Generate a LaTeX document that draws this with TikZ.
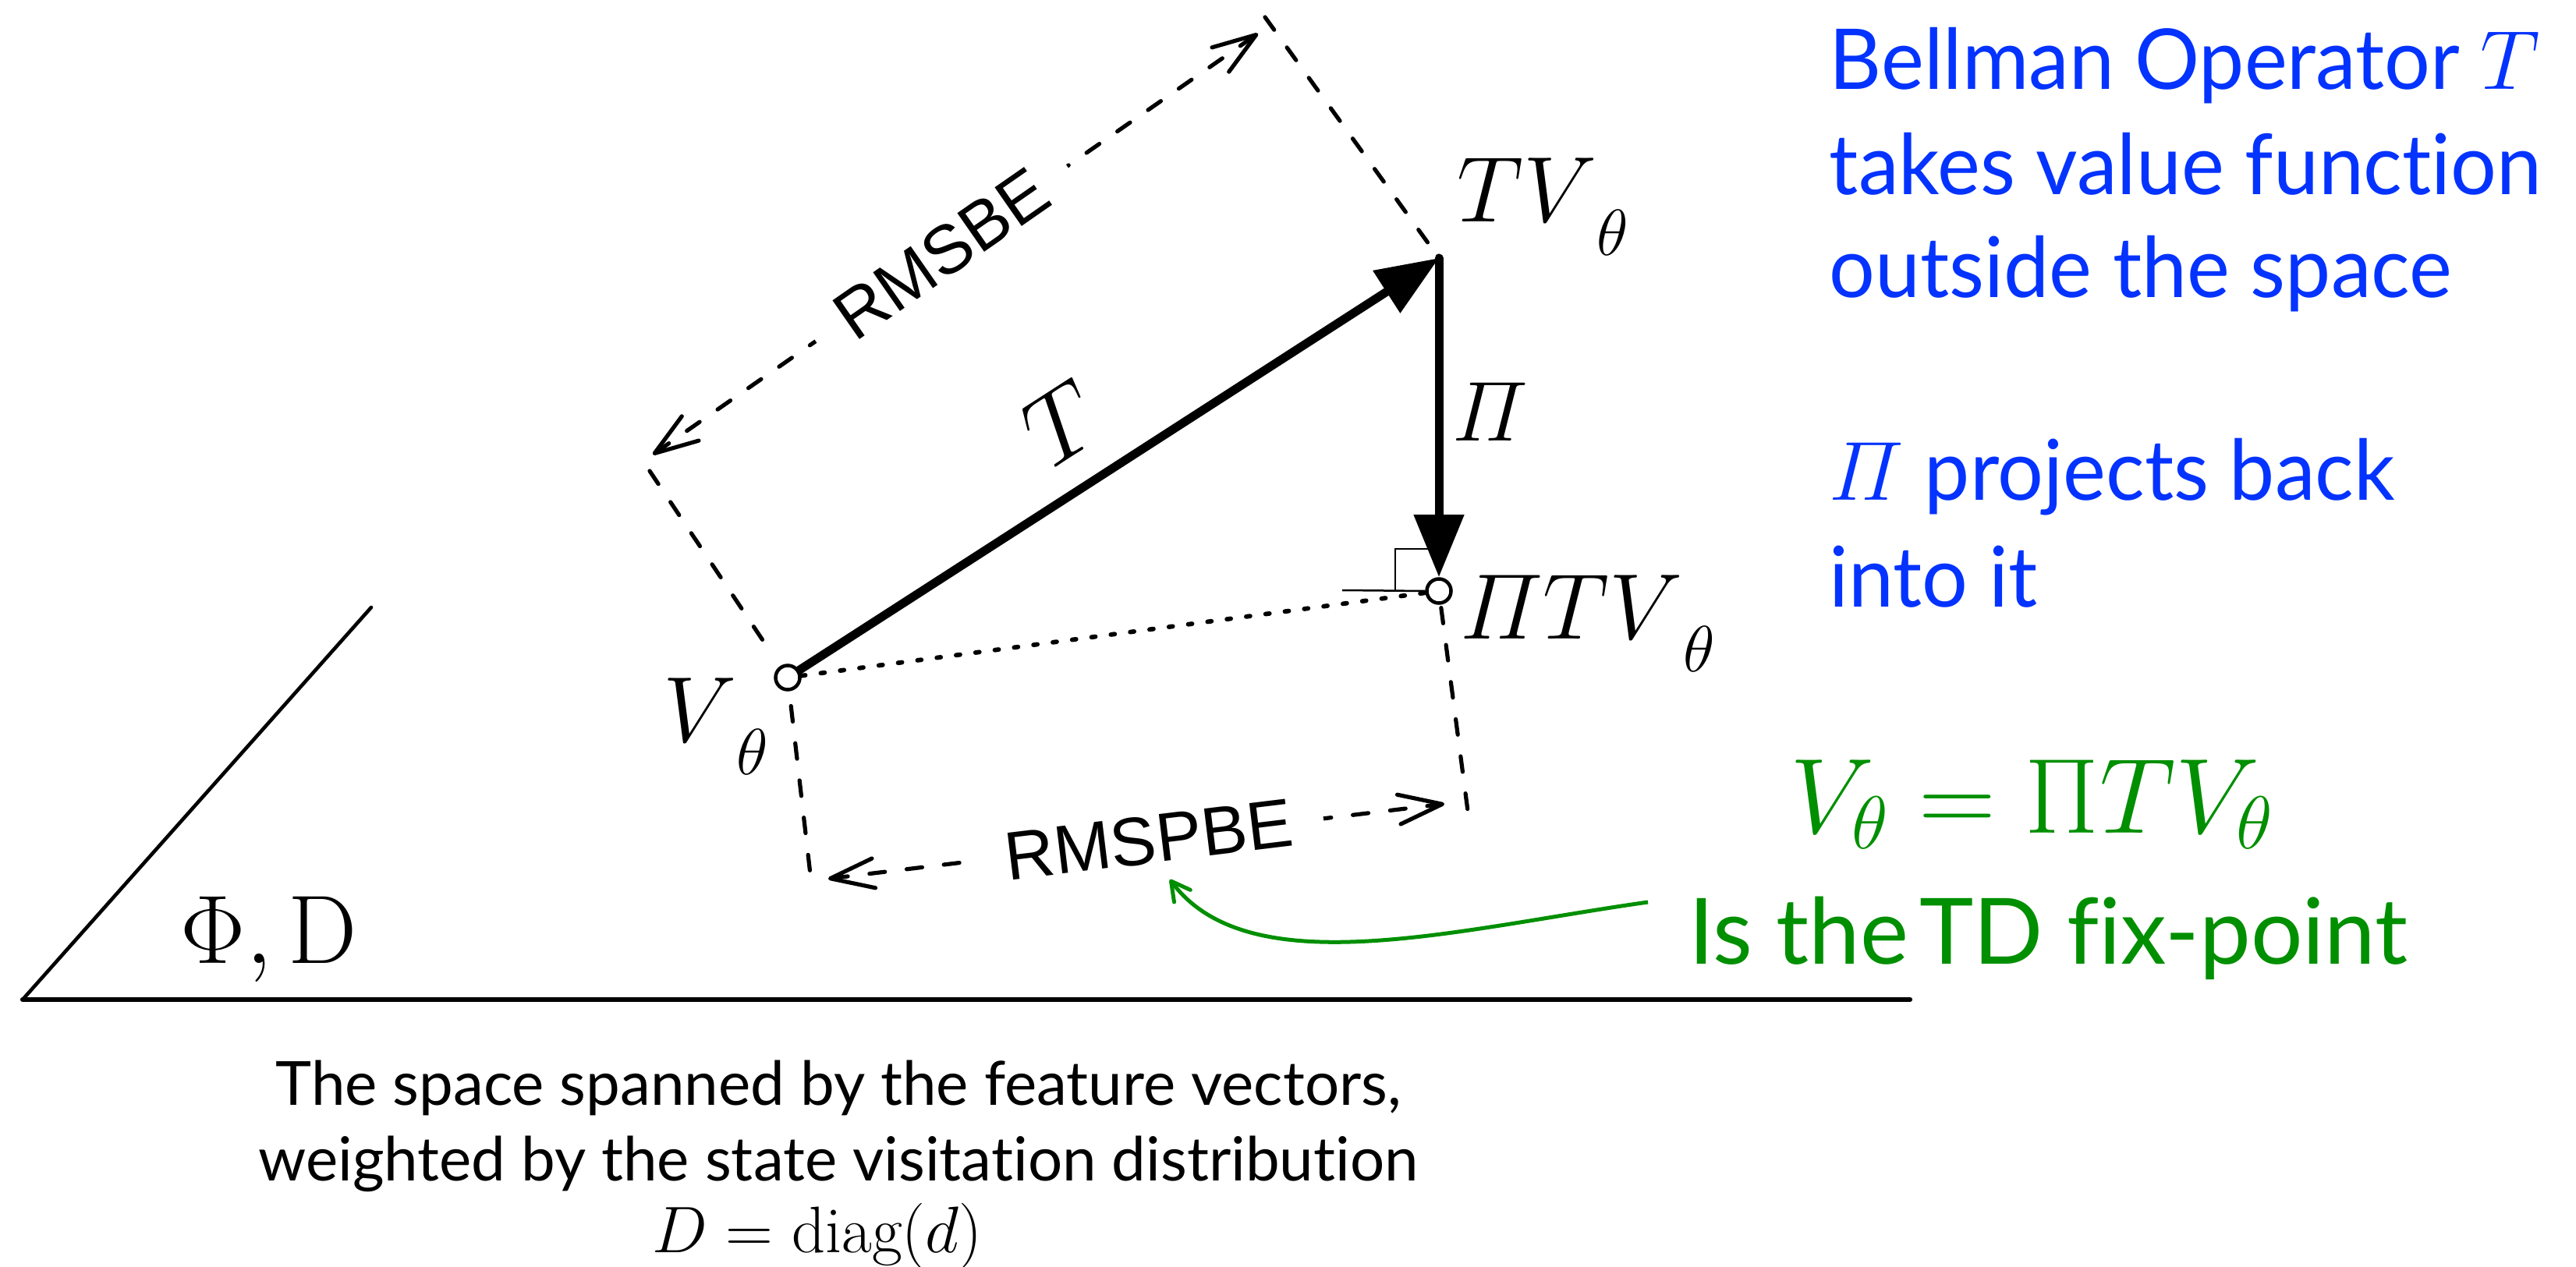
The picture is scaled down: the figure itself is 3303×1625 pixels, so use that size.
\RequirePackage{fix-cm}
\documentclass[tikz,border=0pt]{standalone}
\usepackage{amsmath}
\usepackage{fontspec}
\newfontfamily\gill{Lato}[Ligatures=NoCommon]
\newfontfamily\gillnarrow{Lato}[Ligatures=NoCommon, FakeStretch=0.965]
\newfontfamily\helv{Liberation Sans}
\usetikzlibrary{arrows.meta}
\pgfdeclarelayer{bg}
\pgfsetlayers{bg,main}
\definecolor{kblue}{RGB}{4,51,255}
\definecolor{kgreen}{RGB}{0,143,0}
\newcommand\lsub[1]{\lower12pt\hbox{$\scriptstyle #1$}}
\tikzset{
  guide/.style={line width=0.052cm, dash pattern=on 0.2cm off 0.28cm, line cap=round},
  errarrow/.style={guide, >={Straight Barb[length=0.56cm,width=0.38cm,round]}, <->},
  mainarrow/.style={line width=0.11cm, line cap=round, -{Triangle[length=0.8cm,width=0.62cm]}},
  dotline/.style={line width=0.058cm, line cap=round, dash pattern=on 0.05cm off 0.2cm},
  pt/.style={circle, draw, fill=white, line width=0.045cm, minimum size=0.31cm, inner sep=0pt},
  mathlab/.style={inner sep=0pt, anchor=base west, font=\fontsize{34}{40}\selectfont},
  errlab/.style={font=\helv\fontsize{25}{28}\selectfont, fill=white, sloped, inner xsep=0.4cm, inner ysep=0.05cm},
  bluetxt/.style={anchor=base west, inner sep=0pt, text=kblue, font=\gillnarrow\fontsize{30.6}{36}\selectfont},
  greentxt/.style={anchor=base west, inner sep=0pt, text=kgreen},
  captxt/.style={anchor=base, inner sep=0pt, font=\gill\fontsize{22.2}{26}\selectfont},
  rightmark/.style={line width=0.025cm},
  space/.style={line cap=round},
  greenarrow/.style={draw=kgreen, line width=0.05cm, -{Straight Barb[length=0.24cm,width=0.26cm,round]}}
}
\begin{document}
\begin{tikzpicture}[x=0.01cm,y=-0.01cm]
\useasboundingbox (0,0) rectangle (3303,1625);
% points
\node[pt] (V) at (1010,869) {};
\node[pt] (PTV) at (1845,758) {};
\coordinate (TV) at (1845,331);
\coordinate (Ctop) at (1622,22);
\coordinate (Cleft) at (833,604);
\coordinate (Cbl) at (1040,1130);
\coordinate (Cbr) at (1882,1040);
\coordinate (A1) at (837,583);
\coordinate (A2) at (1613,43);
\coordinate (B1) at (1062,1127);
\coordinate (B2) at (1852,1031);
\coordinate (S0) at (29,1282);
\coordinate (S1) at (476,779);
\coordinate (S2) at (2449,1282);
\coordinate (gs) at (2113,1157);
\coordinate (ge) at (1500,1128);

\begin{pgfonlayer}{bg}
% the space
\draw[space, line width=0.046cm] (S0) -- (S1);
\draw[space, line width=0.062cm] (S0) -- (S2);
% guides
\draw[guide, shorten >=0.2cm] (Ctop) -- (TV);
\draw[guide, shorten >=0.27cm] (Cleft) -- (V);
\draw[guide, shorten <=0.19cm] (V) -- (Cbl);
\draw[guide, shorten <=0.04cm] (PTV) -- (Cbr);
% error arrows
\draw[errarrow] (A1) -- node[errlab, pos=0.477] (rmsbe) {RMSBE} (A2);
\draw[errarrow] (B1) -- node[errlab, pos=0.52] (rmspbe) {RMSPBE} (B2);
% dotted
\draw[dotline] (V) -- (PTV);
% right angle mark
\draw[rightmark] (1721,757) -- (PTV.west);
\draw[rightmark] (1789,757) -- (1789,704) -- (1843,704);
% main arrows
\draw[mainarrow] (V) -- (TV);
\draw[mainarrow] (TV) -- (PTV);
% green curve
\draw[greenarrow] (gs) .. controls (1866,1192) and (1602,1264) .. (ge);
\end{pgfonlayer}

% labels
\node[inner sep=0pt, rotate=32.8, font=\fontsize{36}{40}\selectfont] (Tlab) at (1362,543) {$T$};
\node[inner sep=0pt, anchor=base west, font=\fontsize{31}{36}\selectfont] (Pilab) at (1862,566) {$\varPi$};
\node[mathlab] (Vlab) at (850,951) {$V\lsub{\theta}$};
\node[mathlab] (TVlab) at (1868,285) {$TV\lsub{\theta}$};
\node[mathlab] (PTVlab) at (1872,819) {$\varPi TV\lsub{\theta}$};
\node[inner sep=0pt, anchor=base west, font=\fontsize{35.5}{40}\selectfont] (PhiD) at (231,1235) {$\Phi, \mathrm{D}$};

% blue text
\node[bluetxt] (b1) at (2345,115) {Bellman Operator $T$};
\node[bluetxt] (b2) at (2345,250) {takes value function};
\node[bluetxt] (b3) at (2345,382) {outside the space};
\node[bluetxt] (b4) at (2345,642) {$\varPi$ projects back};
\node[bluetxt] (b5) at (2345,778) {into it};

% green text
\node[greentxt, font=\fontsize{39}{44}\selectfont] (fix) at (2295,1068) {$V_\theta = \Pi T V_\theta$};
\node[greentxt, font=\gill\fontsize{33.4}{38}\selectfont] (fixtxt) at (2165,1236) {Is the\hspace{0.12em}TD fix-point};

% caption
\node[captxt] (c1) at (1075,1417) {The space spanned by the feature vectors,};
\node[captxt] (c2) at (1075,1514) {weighted by the state visitation distribution};
\node[captxt, font=\fontsize{24}{28}\selectfont] (c3) at (1048,1606) {$D = \mathrm{diag}(d)$};
\end{tikzpicture}
\end{document}
